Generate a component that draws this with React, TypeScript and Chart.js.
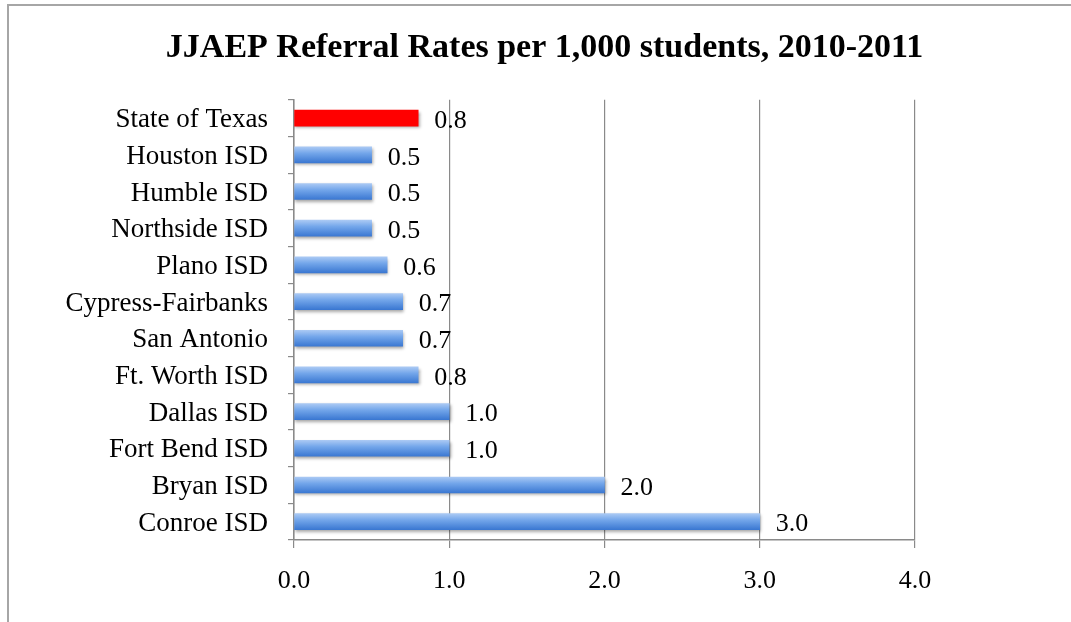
import React, { useEffect, useRef } from "react";
import { Chart, registerables } from "chart.js";

Chart.register(...registerables);

const categories = [
  "State of Texas",
  "Houston ISD",
  "Humble ISD",
  "Northside ISD",
  "Plano ISD",
  "Cypress-Fairbanks",
  "San Antonio",
  "Ft. Worth ISD",
  "Dallas ISD",
  "Fort Bend ISD",
  "Bryan ISD",
  "Conroe ISD",
];
const rates = [0.8, 0.5, 0.5, 0.5, 0.6, 0.7, 0.7, 0.8, 1.0, 1.0, 2.0, 3.0];
const highlightIndex = 0;
const xTicks = [0, 1, 2, 3, 4];
const titleText = "JJAEP Referral Rates per 1,000 students, 2010-2011";

const FONT = "'Liberation Serif', 'Times New Roman', serif";

const shadowPlugin = {
  id: "barShadow",
  beforeDatasetDraw(chart: any) {
    const ctx = chart.ctx;
    ctx.save();
    ctx.shadowColor = "rgba(0,0,0,0.35)";
    ctx.shadowBlur = 3;
    ctx.shadowOffsetX = 1;
    ctx.shadowOffsetY = 2;
  },
  afterDatasetDraw(chart: any) {
    chart.ctx.restore();
  },
};

const labelPlugin = {
  id: "valueLabels",
  afterDatasetsDraw(chart: any) {
    const ctx = chart.ctx;
    const meta = chart.getDatasetMeta(0);
    ctx.save();
    ctx.font = `26px ${FONT}`;
    ctx.fillStyle = "#000";
    ctx.textAlign = "left";
    ctx.textBaseline = "middle";
    meta.data.forEach((el: any, i: number) => {
      ctx.fillText(rates[i].toFixed(1), el.x + 16, el.y + 3);
    });
    ctx.restore();
  },
};

export default function App() {
  const ref = useRef<HTMLCanvasElement | null>(null);

  useEffect(() => {
    if (!ref.current) return;
    const chart = new Chart(ref.current, {
      type: "bar",
      data: {
        labels: categories,
        datasets: [
          {
            data: rates,
            xAxisID: "x",
            yAxisID: "y",
            barThickness: 16,
            borderWidth: 0,
            backgroundColor: (c: any) => {
              if (c.dataIndex === highlightIndex) return "#ff0000";
              const ch = c.chart;
              const ys = ch.scales && ch.scales.y;
              if (!ys || c.type !== "data") return "#6a9fe6";
              const yc = ys.getPixelForValue(c.dataIndex);
              const g = ch.ctx.createLinearGradient(0, yc - 8, 0, yc + 8);
              g.addColorStop(0, "#aac9f4");
              g.addColorStop(0.4, "#73a6ea");
              g.addColorStop(1, "#3b78d2");
              return g;
            },
          },
        ],
      },
      options: {
        indexAxis: "y",
        responsive: false,
        animation: false,
        events: [],
        layout: { padding: { left: 18, right: 0, top: 0, bottom: 0 } },
        plugins: {
          legend: { display: false },
          tooltip: { enabled: false },
          title: {
            display: true,
            text: titleText,
            color: "#000",
            font: { family: FONT, size: 34, weight: "bold" },
            padding: { top: 28, bottom: 31 },
          },
        },
        scales: {
          x: {
            type: "linear",
            position: "bottom",
            min: 0,
            max: 4,
            afterBuildTicks: (s: any) => {
              s.ticks = xTicks.map((v) => ({ value: v }));
            },
            ticks: {
              color: "#000",
              font: { family: FONT, size: 26 },
              padding: 18,
              callback: (v: any) => Number(v).toFixed(1),
            },
            grid: {
              color: "#8a8a8a",
              lineWidth: 1.2,
              tickLength: 8,
              tickColor: "#8a8a8a",
            },
            border: { color: "#8a8a8a", width: 1.5 },
            afterFit: (s: any) => {
              s.height = 82;
            },
          },
          y: {
            type: "category",
            position: "left",
            ticks: {
              color: "#000",
              font: { family: FONT, size: 27 },
              padding: 20,
              labelOffset: 2,
            },
            grid: {
              drawOnChartArea: false,
              tickLength: 6,
              tickColor: "#8a8a8a",
              lineWidth: 1.2,
            },
            border: { color: "#8a8a8a", width: 1.5 },
            afterFit: (s: any) => {
              s.width = 276;
            },
          },
          yR: {
            type: "category",
            position: "right",
            labels: categories,
            grid: { display: false },
            border: { display: false },
            ticks: { display: false },
            afterFit: (s: any) => {
              s.width = 156;
            },
          },
        },
      } as any,
      plugins: [shadowPlugin, labelPlugin],
    });
    return () => chart.destroy();
  }, []);

  return (
    <div
      style={{
        position: "fixed",
        left: 0,
        top: 0,
        width: 1071,
        height: 622,
        background: "#fff",
      }}
    >
      <canvas
        ref={ref}
        width={1071}
        height={622}
        style={{ display: "block", position: "absolute", left: 0, top: 0 }}
      />
      <div
        style={{
          position: "absolute",
          left: 7,
          top: 4,
          width: 1064,
          height: 2,
          background: "#a6a6a6",
          pointerEvents: "none",
        }}
      />
      <div
        style={{
          position: "absolute",
          left: 7,
          top: 4,
          width: 2,
          height: 618,
          background: "#a6a6a6",
          pointerEvents: "none",
        }}
      />
    </div>
  );
}
